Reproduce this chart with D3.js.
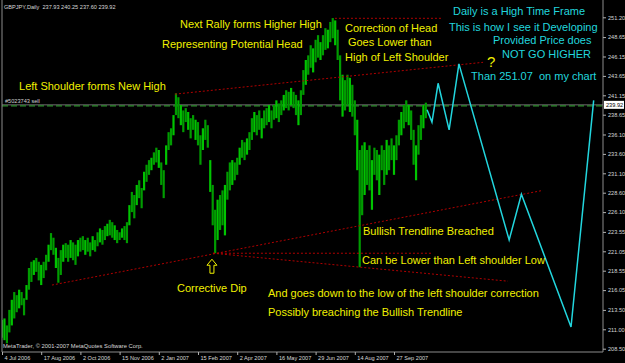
<!DOCTYPE html>
<meta charset="utf-8">
<head>
  <style>
    body { margin: 0; background: #000; }
    svg { display: block; }
    text { white-space: pre; }
  </style>
  <script src="https://cdn.jsdelivr.net/npm/d3@7"></script>
</head>
<body>
<script>
  // GBPJPY daily, one high/low pair for every 2 bars
  const barHigh = [
    212.2, 212.4, 211.5, 213.5, 214.8, 215.8, 215.4, 216.1, 215.8, 215.0,
    216.7, 218.9, 219.7, 219.9, 220.2, 219.7, 219.3, 219.7, 220.6, 221.9,
    223.4, 222.8, 221.5, 220.2, 221.2, 221.9, 222.1, 221.9, 222.5, 222.2,
    221.9, 222.5, 222.8, 223.0, 222.5, 222.8, 222.2, 223.0, 222.5, 223.5,
    224.0, 223.8, 224.3, 224.6, 225.1, 224.8, 224.4, 223.8, 223.5, 224.0,
    224.3, 224.8, 227.0, 228.7, 228.3, 229.6, 230.2, 229.2, 231.3, 232.2,
    232.8, 233.1, 233.8, 234.4, 234.1, 232.5, 231.5, 234.7, 236.4, 236.9,
    238.6, 241.4, 240.9, 239.9, 239.2, 239.5, 239.0, 238.2, 238.6, 238.0,
    237.7, 236.0, 236.9, 238.0, 237.3, 232.8, 229.6, 226.4, 227.7, 228.3,
    228.9, 229.6, 231.3, 232.5, 232.8, 232.5, 233.1, 234.4, 235.4, 235.1,
    235.6, 236.4, 238.2, 239.0, 238.6, 239.2, 238.2, 239.2, 239.5, 239.9,
    239.2, 239.9, 240.5, 240.1, 240.5, 241.2, 241.8, 241.6, 242.1, 241.6,
    241.2, 240.5, 241.8, 244.4, 245.7, 246.3, 247.6, 247.2, 248.3, 248.9,
    248.0, 248.9, 249.8, 249.6, 250.6, 251.1, 250.8, 249.6, 246.3, 243.8,
    243.1, 243.8, 243.4, 242.5, 240.5, 238.0, 234.1, 234.7, 235.1, 234.1,
    234.7, 232.8, 234.4, 234.1, 233.5, 234.7, 234.1, 235.4, 234.7, 235.6,
    234.7, 236.0, 238.0, 239.0, 239.9, 240.5, 239.9, 239.2, 236.7, 234.7,
    237.3, 238.6, 239.9, 240.2
  ];
  const barLow = [
    209.9, 209.6, 209.2, 210.6, 211.5, 212.4, 213.2, 213.7, 214.1, 212.8,
    214.8, 216.1, 217.1, 218.0, 218.4, 217.3, 216.7, 217.6, 218.6, 219.7,
    221.2, 220.6, 218.9, 217.0, 218.0, 219.7, 220.2, 219.7, 220.2, 219.9,
    219.3, 220.4, 221.0, 221.2, 220.6, 221.0, 220.4, 221.2, 221.0, 221.7,
    222.2, 221.9, 222.5, 223.0, 223.1, 222.8, 222.5, 222.1, 222.5, 222.8,
    222.5, 222.1, 224.4, 226.1, 225.3, 227.0, 227.9, 226.6, 228.9, 230.0,
    230.9, 231.5, 232.2, 232.5, 231.8, 229.6, 227.9, 232.2, 234.1, 234.7,
    236.0, 238.6, 238.2, 237.3, 236.4, 237.7, 236.7, 235.6, 236.7, 235.4,
    234.7, 232.2, 234.1, 235.4, 234.4, 228.7, 224.4, 220.8, 222.5, 223.8,
    224.4, 223.1, 227.7, 228.9, 229.6, 230.2, 230.9, 232.2, 233.1, 232.8,
    233.5, 234.1, 235.4, 236.4, 236.0, 236.7, 235.6, 236.9, 237.3, 237.7,
    236.9, 238.0, 238.2, 237.7, 238.6, 239.2, 239.5, 239.2, 239.9, 239.5,
    238.6, 237.3, 238.6, 241.2, 242.5, 243.8, 244.7, 244.1, 245.4, 246.0,
    245.7, 246.3, 247.0, 247.2, 248.0, 248.5, 247.6, 245.7, 240.5, 238.4,
    239.2, 239.9, 239.0, 238.4, 236.0, 231.5, 219.0, 225.7, 228.3, 229.6,
    228.9, 226.4, 230.9, 230.2, 228.3, 231.5, 229.6, 230.9, 231.5, 232.8,
    230.9, 232.8, 234.7, 236.0, 236.9, 237.7, 237.3, 235.4, 232.2, 230.2,
    233.5, 235.4, 236.9, 238.2
  ];

  // projected path (bar number, price)
  const projBars = [347, 351, 356, 365, 373, 414, 424, 464.5, 483];
  const projPrices = [239.3, 237.7, 242.7, 236.7, 245.2, 222.5, 228.4, 211.3, 240.5];

  // trendlines: bar0, price0, bar1, price1
  const trendlines = [
    [141.2, 241.3, 392.7, 245.4],
    [271.8, 251.07, 359, 251.07],
    [40.8, 216.7, 441.6, 228.9],
    [172.2, 220.8, 351.8, 220.8],
    [172.2, 220.8, 413, 217.2]
  ];
  const dipBar = 172.2, dipPrice = 220.8;

  const priceTicks = [251.20, 248.65, 246.15, 243.65, 241.15, 238.65, 236.10, 233.60, 231.10,
    228.60, 226.10, 223.55, 221.05, 218.55, 216.05, 213.50, 211.00, 208.50];
  const dateTicks = [0, 32, 64, 96, 128, 160, 192, 224, 256, 288, 320];
  const dateLabels = ["4 Jul 2006", "17 Aug 2006", "2 Oct 2006", "15 Nov 2006", "2 Jan 2007",
    "15 Feb 2007", "2 Apr 2007", "16 May 2007", "29 Jun 2007", "14 Aug 2007", "27 Sep 2007"];

  const lastPrice = 239.92, sellPrice = 239.80;

  // notes: text, bar, price
  const yellowNotes = [
    ["Next Rally forms Higher High", 145.3, 249.82],
    ["Representing Potential Head", 130.6, 247.24],
    ["Left Shoulder forms New High", 13.9, 241.83],
    ["Correction of Head", 280, 249.31],
    ["Goes Lower than", 282.4, 247.50],
    ["High of Left Shoulder", 280, 245.57],
    ["Bullish Trendline Breached", 294.7, 223.15],
    ["Can be Lower than Left shoulder Low", 293.9, 219.41],
    ["Corrective Dip", 142.9, 215.80],
    ["And goes down to the low of the left shoulder correction", 217.1, 215.16],
    ["Possibly breaching the Bullish Trendline", 217.1, 212.71]
  ];
  const cyanNotes = [
    ["Daily is a High Time Frame", 368.2, 251.5],
    ["This is how I see it Developing", 364.9, 249.44],
    ["Provided Price does", 400.8, 247.76],
    ["NOT GO HIGHER", 408.2, 245.96],
    ["Than 251.07  on my chart", 382.9, 243.12]
  ];

  const W = 625, H = 363, right = 603, bottom = 352;
  const yellow = "#f0f000", cyan = "#22d6de";

  const svg = d3.select("body").append("svg")
    .attr("width", W).attr("height", H)
    .style("background", "#000")
    .style("font-family", "'Liberation Sans', Arial, sans-serif");

  const x = d3.scaleLinear().domain([0, 320]).range([2, 394]);
  const y = d3.scaleLinear().domain([208.5, 251.2]).range([348.7, 17.3]);

  svg.append("clipPath").attr("id", "plot")
    .append("rect").attr("x", 2).attr("y", 0).attr("width", right - 2).attr("height", bottom);

  const plot = svg.append("g").attr("clip-path", "url(#plot)");

  // bid line and sell order line
  plot.append("line")
    .attr("x1", 2).attr("x2", right)
    .attr("y1", y(lastPrice)).attr("y2", y(lastPrice))
    .attr("stroke", "#6e6e6e").attr("stroke-width", 1);
  plot.append("line")
    .attr("x1", 2).attr("x2", right)
    .attr("y1", y(sellPrice)).attr("y2", y(sellPrice))
    .attr("stroke", "#2f8f2f").attr("stroke-width", 1.2)
    .attr("stroke-dasharray", "6,3");
  plot.append("text")
    .attr("x", 5).attr("y", y(sellPrice) - 3)
    .attr("fill", "#d0d0d0").attr("font-size", 5.6)
    .text("#5023743 sell");

  // price bars
  plot.append("g").selectAll("line").data(barHigh).join("line")
    .attr("x1", (d, i) => x(i * 2)).attr("x2", (d, i) => x(i * 2))
    .attr("y1", d => y(d)).attr("y2", (d, i) => y(barLow[i]))
    .attr("stroke", (d, i) => i % 3 == 1 ? "#00c400" : "#009c00")
    .attr("stroke-width", 2.2);

  // trendlines
  plot.append("g").selectAll("line").data(trendlines).join("line")
    .attr("x1", d => x(d[0])).attr("y1", d => y(d[1]))
    .attr("x2", d => x(d[2])).attr("y2", d => y(d[3]))
    .attr("stroke", "#b00000").attr("stroke-width", 1)
    .attr("stroke-dasharray", "2,2");

  // projection
  const line = d3.line().x(d => x(d[0])).y(d => y(d[1]));
  plot.append("path")
    .attr("d", line(projBars.map((b, i) => [b, projPrices[i]])))
    .attr("fill", "none").attr("stroke", cyan).attr("stroke-width", 1.5);

  // arrow under the dip
  const ax = x(dipBar) - 1, ay = y(dipPrice) + 6;
  plot.append("path")
    .attr("d", `M${ax},${ay} L${ax + 5},${ay + 6} L${ax + 2},${ay + 6} L${ax + 2},${ay + 14} ` +
      `L${ax - 2},${ay + 14} L${ax - 2},${ay + 6} L${ax - 5},${ay + 6} Z`)
    .attr("fill", "none").attr("stroke", yellow).attr("stroke-width", 1);

  // notes
  const notes = plot.append("g").attr("font-size", 11);
  notes.selectAll(".y").data(yellowNotes).join("text").attr("class", "y")
    .attr("x", d => x(d[1])).attr("y", d => y(d[2]))
    .attr("fill", yellow).text(d => d[0]);
  notes.selectAll(".c").data(cyanNotes).join("text").attr("class", "c")
    .attr("x", d => x(d[1])).attr("y", d => y(d[2]))
    .attr("fill", cyan).text(d => d[0]);
  notes.append("text")
    .attr("x", x(395.9)).attr("y", y(244.8))
    .attr("fill", yellow).attr("font-size", 15).text("?");

  // header and footer
  svg.append("text").attr("x", 4).attr("y", 8.5)
    .attr("fill", "#d8d8d8").attr("font-size", 5.6)
    .text("GBPJPY,Daily  237.93 240.25 237.60 239.92");
  svg.append("text").attr("x", 3).attr("y", 348)
    .attr("fill", "#d8d8d8").attr("font-size", 5.8)
    .text("MetaTrader, \u00a9 2001-2007 MetaQuotes Software Corp.");

  // frame
  svg.append("path")
    .attr("d", `M2,0 V${bottom} H${right} V0`)
    .attr("fill", "none").attr("stroke", "#8c8c8c").attr("stroke-width", 1);

  // price axis
  const yAxis = svg.append("g").attr("transform", `translate(${right},0)`)
    .call(d3.axisRight(y).tickValues(priceTicks).tickSize(3).tickFormat(d => d.toFixed(2)));
  yAxis.select(".domain").remove();
  yAxis.selectAll("line").attr("stroke", "#b0b0b0");
  yAxis.selectAll("text").attr("x", 5).attr("fill", "#d8d8d8")
    .attr("font-size", 5.6).attr("font-family", "'Liberation Sans', Arial, sans-serif");

  // last price box
  svg.append("rect")
    .attr("x", right + 1).attr("y", y(lastPrice) - 4)
    .attr("width", 20).attr("height", 8).attr("fill", "#fff");
  svg.append("text")
    .attr("x", right + 3).attr("y", y(lastPrice) + 2)
    .attr("fill", "#000").attr("font-size", 5.6).text(lastPrice.toFixed(2));

  // date axis
  const xAxis = svg.append("g").attr("transform", `translate(0,${bottom})`)
    .call(d3.axisBottom(x).tickValues(dateTicks).tickSize(3).tickFormat((d, i) => dateLabels[i]));
  xAxis.select(".domain").remove();
  xAxis.selectAll("line").attr("stroke", "#b0b0b0");
  xAxis.selectAll("text")
    .attr("text-anchor", "start").attr("x", 2).attr("y", 4)
    .attr("fill", "#d8d8d8").attr("font-size", 5.6)
    .attr("font-family", "'Liberation Sans', Arial, sans-serif");
</script>
</body>
</html>
